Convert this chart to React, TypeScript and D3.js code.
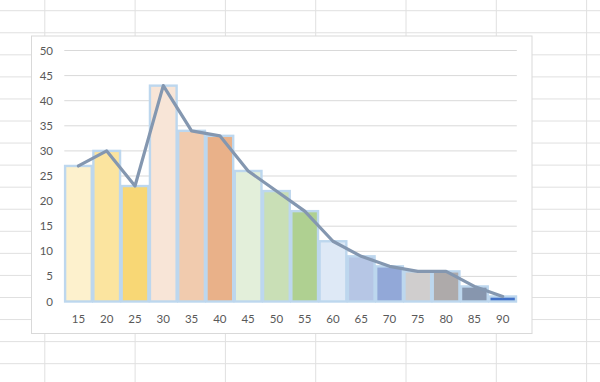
import React from "react";
import * as d3 from "d3";

const categories = ["15", "20", "25", "30", "35", "40", "45", "50", "55", "60", "65", "70", "75", "80", "85", "90"];
const barValues = [27, 30, 23, 43, 34, 33, 26, 22, 18, 12, 9, 7, 6, 6, 3, 1];
const lineValues = [27, 30, 23, 43, 34, 33, 26, 22, 18, 12, 9, 7, 6, 6, 3, 1];
const yTicks = [0, 5, 10, 15, 20, 25, 30, 35, 40, 45, 50];

const palette = [
  "#fdf1cd", "#fbe49f", "#f8d775",
  "#f8e5d7", "#f1cbae", "#e9b189",
  "#e3efda", "#c9dfb6", "#afd091",
  "#dee9f6", "#b6c6e5", "#92a8d8",
  "#d0cece", "#aeaaaa", "#8796ae", "#4271c8",
];

const W = 600;
const H = 382;
const FONT = "Lato, 'Open Sans', sans-serif";

export default function App() {
  const x = d3.scaleBand<string>().domain(categories).range([64.3, 516.8]).padding(0);
  const y = d3.scaleLinear().domain([0, 50]).range([301.5, 50.5]);

  const line = d3
    .line<number>()
    .x((_, i) => (x(categories[i]) as number) + x.bandwidth() / 2)
    .y((d) => y(d));

  const colXs = d3.range(-1, 7).map((k) => 44.8 + 90.3 * k);
  const rowYs = d3.range(0, 18).map((k) => 10.7 + 22.06 * k);

  return (
    <div style={{ position: "absolute", left: 0, top: 0 }}>
      <svg width={W} height={H} style={{ display: "block", background: "#ffffff" }}>
        {/* spreadsheet grid */}
        {colXs.map((cx, i) => (
          <line key={"c" + i} x1={cx} x2={cx} y1={0} y2={H} stroke="#e0e0e0" strokeWidth={1} />
        ))}
        {rowYs.map((ry, i) => (
          <line key={"r" + i} x1={0} x2={W} y1={ry} y2={ry} stroke="#e0e0e0" strokeWidth={1} />
        ))}
        {/* chart box */}
        <rect x={31.5} y={36} width={500.5} height={297.5} fill="#ffffff" stroke="#d9d9d9" strokeWidth={1} />
        {/* gridlines */}
        {yTicks.map((t) => (
          <line
            key={"g" + t}
            x1={64.3}
            x2={516.8}
            y1={y(t)}
            y2={y(t)}
            stroke="#d9d9d9"
            strokeWidth={1}
          />
        ))}
        {/* y labels */}
        {yTicks.map((t) => (
          <text
            key={"yl" + t}
            x={53}
            y={y(t)}
            dy="0.35em"
            textAnchor="end"
            fontFamily={FONT}
            fontSize={11.5}
            fill="#595959"
          >
            {t}
          </text>
        ))}
        {/* bars */}
        {barValues.map((v, i) => {
          const bx = x(categories[i]) as number;
          return (
            <rect
              key={"b" + i}
              x={bx + 0.8}
              y={y(v)}
              width={x.bandwidth() - 1.6}
              height={y(0) - y(v)}
              fill={palette[i]}
              stroke="#bdd7ee"
              strokeWidth={2.4}
            />
          );
        })}
        {/* line */}
        <path
          d={line(lineValues) || ""}
          fill="none"
          stroke="#8497b0"
          strokeWidth={3.2}
          strokeLinejoin="round"
          strokeLinecap="round"
        />
        {/* x labels */}
        {categories.map((c) => (
          <text
            key={"xl" + c}
            x={(x(c) as number) + x.bandwidth() / 2}
            y={319}
            dy="0.35em"
            textAnchor="middle"
            fontFamily={FONT}
            fontSize={11.5}
            fill="#595959"
          >
            {c}
          </text>
        ))}
      </svg>
    </div>
  );
}
